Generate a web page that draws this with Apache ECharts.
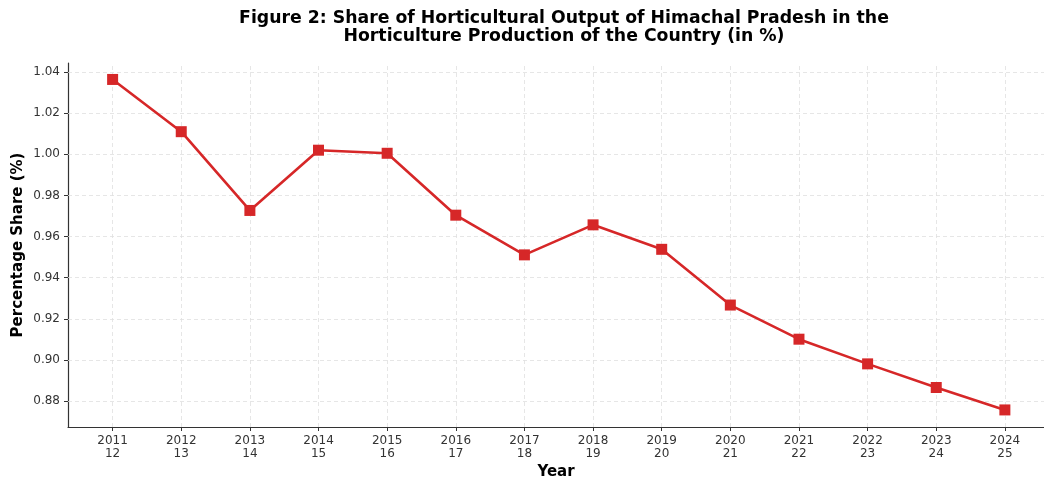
<!DOCTYPE html>
<html>
<head>
<meta charset="utf-8">
<script src="https://cdn.jsdelivr.net/npm/echarts@6/dist/echarts.min.js"></script>
<style>
  html, body { margin: 0; padding: 0; background: #fff; }
  #chart { width: 1044px; height: 477px; }
</style>
</head>
<body>
<div id="chart"></div>
<script>
// year labels (two lines each)
var years = ['2011\n12', '2012\n13', '2013\n14', '2014\n15', '2015\n16', '2016\n17', '2017\n18',
  '2018\n19', '2019\n20', '2020\n21', '2021\n22', '2022\n23', '2023\n24', '2024\n25'];
// share in %
var share = [1.0364, 1.0110, 0.9727, 1.0020, 1.0005, 0.9704, 0.9511,
  0.9657, 0.9538, 0.9267, 0.9101, 0.8981, 0.8866, 0.8757];
var yTicks = [0.88, 0.90, 0.92, 0.94, 0.96, 0.98, 1.00, 1.02, 1.04];

var xIdx = years.map(function (_, i) { return i; });
var font = 'DejaVu Sans';

var chart = echarts.init(document.getElementById('chart'), null, { renderer: 'canvas' });

var option = {
  animation: false,
  backgroundColor: '#fff',
  title: {
    text: 'Figure 2: Share of Horticultural Output of Himachal Pradesh in the\nHorticulture Production of the Country (in %)',
    left: 559,
    textAlign: 'center',
    top: 5,
    textStyle: { fontFamily: font, fontSize: 17.3, fontWeight: 'bold', color: '#000', lineHeight: 18 }
  },
  grid: { left: 68, right: 0, top: 63, bottom: 50, outerBoundsMode: 'none' },
  xAxis: {
    type: 'value',
    min: -0.65,
    max: 13.57,
    name: 'Year',
    nameLocation: 'middle',
    nameGap: 36,
    nameTextStyle: { fontFamily: font, fontSize: 15, fontWeight: 'bold', color: '#000' },
    axisLine: { onZero: false, lineStyle: { color: '#333', width: 1.2 } },
    axisTick: { show: true, length: 4, customValues: xIdx, lineStyle: { color: '#333' } },
    axisLabel: {
      customValues: xIdx,
      fontFamily: font, fontSize: 12, color: '#333', lineHeight: 13, margin: 7,
      formatter: function (v) { return years[Math.round(v)]; }
    },
    splitLine: { show: false }
  },
  yAxis: {
    type: 'value',
    min: 0.8674,
    max: 1.0444,
    name: 'Percentage Share (%)',
    nameLocation: 'middle',
    nameGap: 42,
    nameMoveOverlap: false,
    nameTextStyle: { fontFamily: font, fontSize: 15, fontWeight: 'bold', color: '#000' },
    axisLine: { show: true, onZero: false, lineStyle: { color: '#333', width: 1.2 } },
    axisTick: { show: true, length: 4, customValues: yTicks, lineStyle: { color: '#333' } },
    axisLabel: {
      customValues: yTicks,
      fontFamily: font, fontSize: 12, color: '#333', margin: 8,
      formatter: function (v) { return v.toFixed(2); }
    },
    splitLine: { show: false }
  },
  series: [{
    // dashed grid drawn underneath the data
    type: 'line',
    data: [],
    z: 1,
    silent: true,
    markLine: {
      silent: true,
      symbol: 'none',
      animation: false,
      label: { show: false },
      lineStyle: { color: '#e0e0e0', type: [4, 3], width: 0.8 },
      data: xIdx.map(function (i) { return { xAxis: i }; })
        .concat(yTicks.map(function (v) { return { yAxis: v }; }))
    }
  }, {
    type: 'line',
    data: share.map(function (v, i) { return [i, v]; }),
    symbol: 'rect',
    symbolSize: 11,
    itemStyle: { color: '#d62728' },
    lineStyle: { color: '#d62728', width: 2.6 },
    z: 5
  }]
};

chart.setOption(option);
</script>
</body>
</html>
